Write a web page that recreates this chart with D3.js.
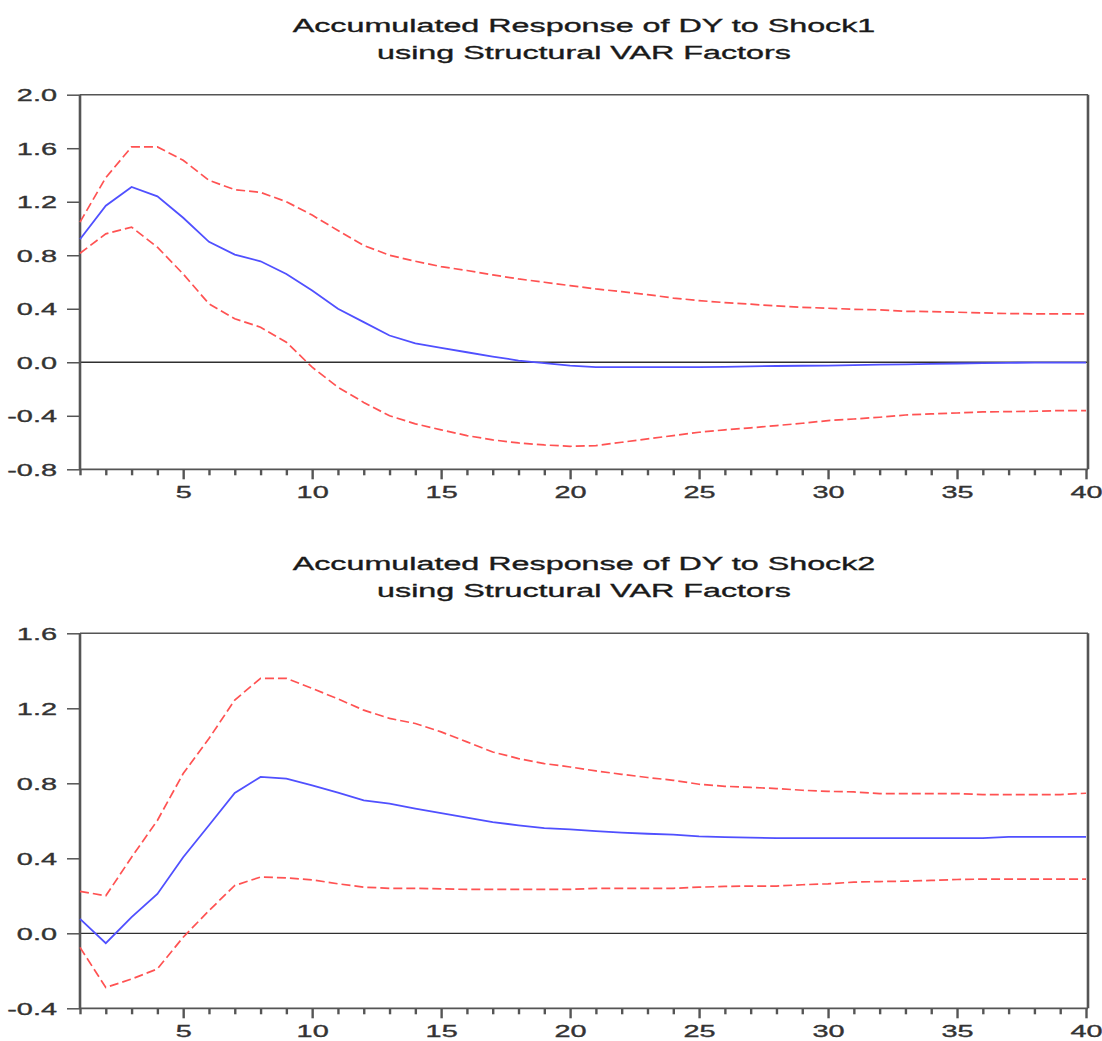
<!DOCTYPE html>
<html>
<head>
<meta charset="utf-8">
<script src="https://cdn.jsdelivr.net/npm/d3@7/dist/d3.min.js"></script>
<style>
  html, body { margin: 0; padding: 0; background: #ffffff; }
  svg { display: block; }
  text { font-family: "Liberation Sans", Arial, Helvetica, sans-serif; }
</style>
</head>
<body>
<svg id="chart" width="1102" height="1041"></svg>
<script>
// Forecast horizons 1..40
const periods = d3.range(1, 41);

// Accumulated response of DY to Shock1: point estimate and +/- 2 S.E. bands
const shock1Response = [0.92, 1.17, 1.31, 1.24, 1.08, 0.90, 0.805, 0.755, 0.66, 0.536,
  0.40, 0.30, 0.20, 0.142, 0.107, 0.075, 0.043, 0.013, -0.007, -0.025,
  -0.037, -0.037, -0.037, -0.037, -0.037, -0.035, -0.03, -0.028, -0.026, -0.025,
  -0.022, -0.018, -0.015, -0.012, -0.009, -0.007, -0.004, -0.003, -0.002, -0.002];
const shock1Upper = [1.047, 1.38, 1.61, 1.61, 1.51, 1.36, 1.29, 1.27, 1.20, 1.10,
  0.985, 0.873, 0.80, 0.755, 0.715, 0.686, 0.653, 0.623, 0.598, 0.573,
  0.548, 0.528, 0.506, 0.48, 0.461, 0.446, 0.434, 0.421, 0.411, 0.404,
  0.396, 0.392, 0.381, 0.379, 0.374, 0.369, 0.364, 0.362, 0.362, 0.362];
const shock1Lower = [0.815, 0.96, 1.01, 0.86, 0.66, 0.437, 0.325, 0.262, 0.15, -0.037,
  -0.187, -0.30, -0.40, -0.46, -0.505, -0.548, -0.58, -0.603, -0.618, -0.628,
  -0.623, -0.598, -0.573, -0.548, -0.523, -0.505, -0.49, -0.473, -0.456, -0.436,
  -0.424, -0.411, -0.394, -0.386, -0.379, -0.371, -0.369, -0.366, -0.361, -0.361];

// Accumulated response of DY to Shock2
const shock2Response = [0.077, -0.053, 0.086, 0.21, 0.406, 0.576, 0.748, 0.834, 0.825, 0.789,
  0.75, 0.709, 0.692, 0.665, 0.641, 0.617, 0.593, 0.576, 0.561, 0.554,
  0.545, 0.537, 0.531, 0.526, 0.517, 0.513, 0.51, 0.508, 0.508, 0.508,
  0.508, 0.508, 0.508, 0.508, 0.508, 0.508, 0.514, 0.514, 0.514, 0.514];
const shock2Upper = [0.224, 0.20, 0.406, 0.602, 0.852, 1.039, 1.244, 1.36, 1.36, 1.306,
  1.25, 1.19, 1.146, 1.119, 1.074, 1.021, 0.967, 0.932, 0.905, 0.887,
  0.866, 0.848, 0.831, 0.816, 0.795, 0.784, 0.778, 0.772, 0.763, 0.757,
  0.754, 0.745, 0.745, 0.745, 0.745, 0.74, 0.74, 0.74, 0.74, 0.747];
const shock2Lower = [-0.075, -0.289, -0.244, -0.19, -0.021, 0.121, 0.255, 0.30, 0.296, 0.285,
  0.264, 0.246, 0.24, 0.24, 0.237, 0.234, 0.234, 0.234, 0.234, 0.234,
  0.24, 0.24, 0.24, 0.24, 0.246, 0.25, 0.252, 0.252, 0.259, 0.264,
  0.273, 0.276, 0.278, 0.282, 0.287, 0.289, 0.289, 0.289, 0.289, 0.289];

// Axis tick values
const shock1YTicks = [-0.8, -0.4, 0.0, 0.4, 0.8, 1.2, 1.6, 2.0];
const shock2YTicks = [-0.4, 0.0, 0.4, 0.8, 1.2, 1.6];
const xLabelTicks = [5, 10, 15, 20, 25, 30, 35, 40];

const shock1Title = ["Accumulated Response of DY to Shock1", "using Structural VAR Factors"];
const shock2Title = ["Accumulated Response of DY to Shock2", "using Structural VAR Factors"];

// Glyphs are drawn wide, as in the EViews output this chart comes from
const TEXT_STRETCH = 1.7;
const fmt = d3.formatLocale({ decimal: ".", thousands: ",", grouping: [3], currency: ["", ""], minus: "-" }).format(".1f");

const svg = d3.select("#chart");
svg.append("rect").attr("width", 1102).attr("height", 1041).attr("fill", "#ffffff");

const left = 80, right = 1088;
const x = d3.scaleLinear().domain([1, 40]).range([80, 1086]);

function drawPanel(cfg) {
  const g = svg.append("g");
  const y = d3.scaleLinear().domain(cfg.yDomain).range([cfg.bottom, cfg.top]);

  // title
  cfg.title.forEach((line, i) => {
    g.append("text")
      .attr("transform", `translate(${(left + right) / 2},${cfg.titleBase[i]}) scale(${TEXT_STRETCH},1)`)
      .attr("text-anchor", "middle")
      .attr("font-size", 19)
      .attr("fill", "#1a1a1a")
      .attr("stroke", "#1a1a1a")
      .attr("stroke-width", 0.35)
      .text(line);
  });

  // zero reference line
  g.append("line")
    .attr("x1", left).attr("x2", right)
    .attr("y1", y(0)).attr("y2", y(0))
    .attr("stroke", "#303030").attr("stroke-width", 1.3);

  // y axis ticks
  const yAxis = d3.axisLeft(y).tickValues(cfg.yTicks).tickSize(13).tickFormat(fmt);
  const ya = g.append("g").attr("transform", `translate(${left},0)`).call(yAxis);
  ya.select(".domain").remove();
  ya.selectAll(".tick line").attr("stroke", "#555").attr("stroke-width", 1.5);
  ya.selectAll(".tick text").each(function () {
    const t = d3.select(this);
    t.attr("x", null).attr("dy", null).attr("y", null)
      .attr("text-anchor", "end")
      .attr("transform", `translate(-23,6) scale(${TEXT_STRETCH},1)`)
      .attr("font-size", 17)
      .attr("fill", "#333")
      .attr("stroke", "#333")
      .attr("stroke-width", 0.35);
  });

  // x axis ticks: minor at every period, longer ticks with labels every 5
  const xAxis = d3.axisBottom(x).tickValues(periods).tickSize(6)
    .tickFormat(d => xLabelTicks.includes(d) ? String(d) : "");
  const xa = g.append("g").attr("transform", `translate(0,${cfg.bottom})`).call(xAxis);
  xa.select(".domain").remove();
  xa.selectAll(".tick line").attr("stroke", "#555").attr("stroke-width", 2.4)
    .attr("y2", d => xLabelTicks.includes(d) ? 10 : 6);
  xa.selectAll(".tick text").each(function () {
    d3.select(this).attr("y", null).attr("dy", null)
      .attr("text-anchor", "middle")
      .attr("transform", `translate(0,29) scale(${TEXT_STRETCH},1)`)
      .attr("font-size", 17)
      .attr("fill", "#333")
      .attr("stroke", "#333")
      .attr("stroke-width", 0.35);
  });

  // plot frame
  g.append("line").attr("x1", left).attr("x2", right).attr("y1", cfg.top).attr("y2", cfg.top)
    .attr("stroke", "#555").attr("stroke-width", 1.5);
  g.append("line").attr("x1", left).attr("x2", right).attr("y1", cfg.bottom).attr("y2", cfg.bottom)
    .attr("stroke", "#555").attr("stroke-width", 1.8);
  g.append("line").attr("x1", left).attr("x2", left).attr("y1", cfg.top).attr("y2", cfg.bottom)
    .attr("stroke", "#555").attr("stroke-width", 2.6);
  g.append("line").attr("x1", right).attr("x2", right).attr("y1", cfg.top).attr("y2", cfg.bottom)
    .attr("stroke", "#555").attr("stroke-width", 2.6);

  const line = d3.line().x((d, i) => x(periods[i])).y(d => y(d));

  [cfg.upper, cfg.lower].forEach(band => {
    g.append("path").datum(band)
      .attr("d", line)
      .attr("fill", "none")
      .attr("stroke", "#ff5252")
      .attr("stroke-width", 1.7)
      .attr("stroke-dasharray", "9,4");
  });

  g.append("path").datum(cfg.response)
    .attr("d", line)
    .attr("fill", "none")
    .attr("stroke", "#5050ff")
    .attr("stroke-width", 1.8);
}

drawPanel({
  title: shock1Title, titleBase: [32, 59],
  yDomain: [-0.8, 2.0], yTicks: shock1YTicks,
  top: 94.7, bottom: 469.3,
  response: shock1Response, upper: shock1Upper, lower: shock1Lower
});

drawPanel({
  title: shock2Title, titleBase: [570, 597],
  yDomain: [-0.4, 1.6], yTicks: shock2YTicks,
  top: 633.3, bottom: 1008.3,
  response: shock2Response, upper: shock2Upper, lower: shock2Lower
});
</script>
</body>
</html>
